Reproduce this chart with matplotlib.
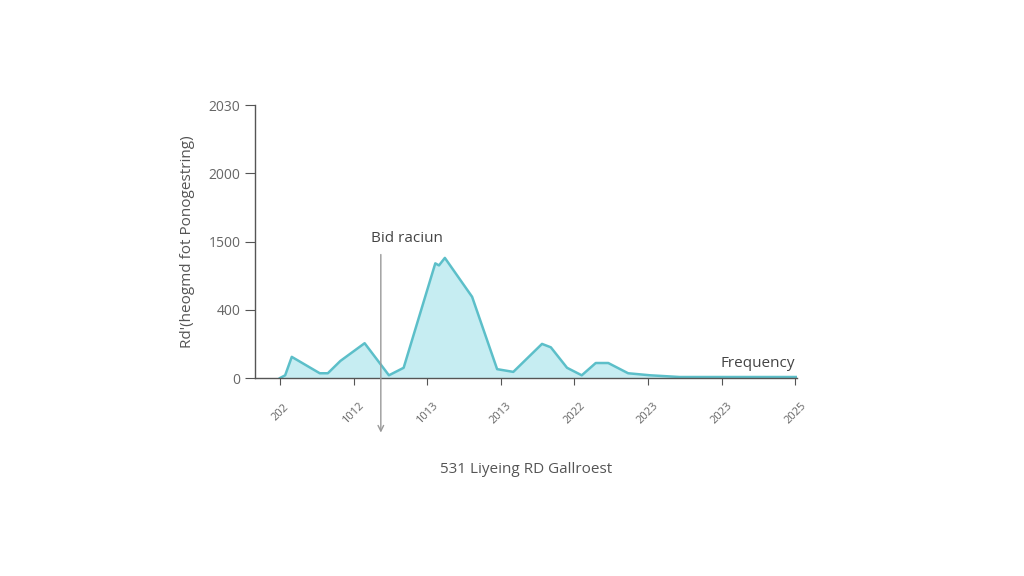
import matplotlib
matplotlib.use("Agg")
import matplotlib.pyplot as plt

plt.rcParams['font.family'] = ['Open Sans', 'DejaVu Sans']

# data
x_vals = [0.0, 0.07, 0.16, 0.54, 0.65, 0.82, 1.15, 1.48, 1.68, 2.11, 2.16, 2.24,
          2.61, 2.95, 3.17, 3.56, 3.68, 3.90, 4.10, 4.29, 4.46, 4.73, 5.03, 5.43, 7.02]
y_vals = [0.0, 0.04, 0.31, 0.07, 0.07, 0.25, 0.51, 0.04, 0.15, 1.68, 1.65, 1.76,
          1.19, 0.13, 0.09, 0.50, 0.45, 0.15, 0.04, 0.22, 0.22, 0.07, 0.04, 0.015, 0.015]
x_tick_labels = ["202", "1012", "1013", "2013", "2022", "2023", "2023", "2025"]
y_tick_labels = ["0", "400", "1500", "2000", "2030"]

fig = plt.figure(figsize=(10.24, 5.76), dpi=100)
ax = fig.add_axes([0.249, 0.3437, 0.529, 0.474])

line_c = "#5cbfc9"
fill_c = "#c6edf2"
ax.fill_between(x_vals, y_vals, 0, color=fill_c, lw=0)
ax.plot(x_vals, y_vals, color=line_c, lw=1.8)

ax.set_xlim(-0.34, 7.02)
ax.set_ylim(0, 4.0)
ax.set_xticks(range(len(x_tick_labels)))
ax.set_xticklabels(x_tick_labels, rotation=45, fontsize=8, color="#666666",
                   ha="center", va="center")
ax.set_yticks(range(len(y_tick_labels)))
ax.set_yticklabels(y_tick_labels, fontsize=10, color="#666666")
ax.tick_params(axis='x', length=5, color="#555555", pad=20)
ax.tick_params(axis='y', length=7, color="#555555")

for s in ["top", "right"]:
    ax.spines[s].set_visible(False)
for s in ["left", "bottom"]:
    ax.spines[s].set_color("#555555")
    ax.spines[s].set_linewidth(1.0)

ax.set_ylabel("Rd'(heogmd fot Ponogestring)", fontsize=11, color="#555555", labelpad=10)
ax.set_xlabel("531 Liyeing RD Gallroest", fontsize=11, color="#555555", labelpad=26)

ax.annotate("", xy=(1.37, -0.84), xytext=(1.37, 1.85),
            arrowprops=dict(arrowstyle="->", color="#999999", lw=1.0),
            annotation_clip=False)
ax.text(1.23, 2.05, "Bid raciun", fontsize=11, color="#444444", ha="left", va="center")
ax.text(7.0, 0.1, "Frequency", fontsize=11, color="#444444", ha="right", va="bottom")

fig.savefig("out.png", dpi=100, facecolor="white")
